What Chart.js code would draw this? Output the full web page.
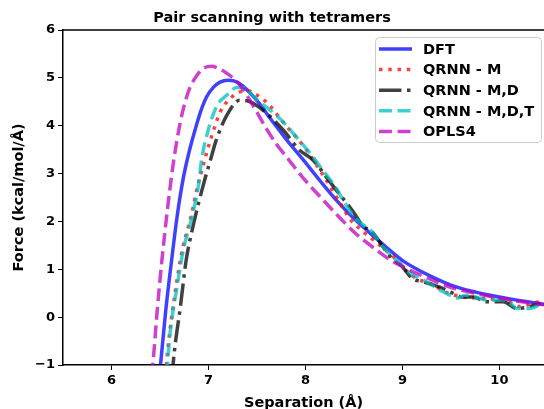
<!DOCTYPE html>
<html>
<head>
<meta charset="utf-8">
<script src="https://cdn.jsdelivr.net/npm/chart.js@4"></script>
<style>
  html, body { margin: 0; padding: 0; background: #fff; }
  #wrap { width: 544px; height: 409px; position: relative; }
</style>
</head>
<body>
<div id="wrap"><canvas id="c"></canvas></div>
<script>
// ---- data ----
const seriesNames = ["DFT", "QRNN - M", "QRNN - M,D", "QRNN - M,D,T", "OPLS4"];

const dftX = [6.47, 6.51, 6.56, 6.62, 6.68, 6.74, 6.80, 6.86, 6.92, 6.98, 7.05, 7.12, 7.20, 7.27, 7.35, 7.43, 7.53, 7.63, 7.80, 7.98, 8.15, 8.32, 8.50, 8.67, 8.84, 9.01, 9.18, 9.35, 9.50, 9.66, 9.85, 10.00, 10.20, 10.46];
const dftY = [-1.6, -0.9, 0.15, 1.19, 2.15, 2.9, 3.45, 3.9, 4.3, 4.6, 4.8, 4.91, 4.95, 4.93, 4.84, 4.68, 4.45, 4.17, 3.72, 3.28, 2.85, 2.44, 2.06, 1.75, 1.45, 1.17, 0.97, 0.8, 0.67, 0.57, 0.48, 0.42, 0.35, 0.27];

const qmX = [6.55, 6.58, 6.66, 6.73, 6.82, 6.89, 6.95, 7.02, 7.12, 7.19, 7.29, 7.39, 7.50, 7.63, 7.70, 7.80, 7.90, 8.00, 8.15, 8.32, 8.46, 8.60, 8.72, 8.84, 8.95, 9.05, 9.15, 9.28, 9.45, 9.63, 9.75, 9.90, 10.04, 10.12, 10.21, 10.30, 10.42];
const qmY = [-1.4, -0.69, 0.56, 1.4, 2.1, 2.75, 3.21, 3.7, 4.28, 4.5, 4.67, 4.74, 4.64, 4.43, 4.25, 4.0, 3.77, 3.52, 3.07, 2.51, 2.05, 1.78, 1.58, 1.38, 1.18, 0.95, 0.8, 0.71, 0.52, 0.42, 0.4, 0.38, 0.36, 0.3, 0.22, 0.26, 0.33];

const qmdX = [6.62, 6.65, 6.71, 6.77, 6.84, 6.90, 6.96, 7.02, 7.08, 7.19, 7.32, 7.40, 7.49, 7.60, 7.77, 7.94, 8.08, 8.24, 8.32, 8.48, 8.60, 8.67, 8.87, 9.00, 9.10, 9.21, 9.38, 9.52, 9.62, 9.73, 9.87, 10.04, 10.18, 10.31, 10.42];
const qmdY = [-1.3, -0.69, 0.21, 1.19, 1.89, 2.4, 2.86, 3.28, 3.7, 4.22, 4.53, 4.52, 4.43, 4.26, 3.91, 3.49, 3.28, 2.86, 2.65, 2.24, 1.89, 1.82, 1.28, 1.05, 0.81, 0.74, 0.63, 0.5, 0.42, 0.42, 0.32, 0.32, 0.18, 0.22, 0.29];

const qmdtX = [6.57, 6.60, 6.67, 6.74, 6.83, 6.90, 6.93, 6.99, 7.08, 7.19, 7.29, 7.39, 7.46, 7.57, 7.67, 7.77, 7.90, 8.05, 8.19, 8.30, 8.39, 8.50, 8.58, 8.67, 8.80, 8.94, 9.08, 9.25, 9.39, 9.50, 9.56, 9.66, 9.75, 9.87, 10.04, 10.12, 10.18, 10.31, 10.43];
const qmdtY = [-1.2, -0.41, 0.56, 1.4, 2.1, 2.8, 3.3, 3.85, 4.39, 4.64, 4.8, 4.78, 4.62, 4.43, 4.27, 4.08, 3.78, 3.42, 3.04, 2.75, 2.44, 2.1, 1.95, 1.82, 1.47, 1.19, 0.92, 0.74, 0.56, 0.45, 0.4, 0.46, 0.42, 0.36, 0.36, 0.28, 0.18, 0.18, 0.27];

const oplsX = [6.39, 6.43, 6.47, 6.52, 6.58, 6.64, 6.71, 6.76, 6.81, 6.88, 6.95, 7.03, 7.10, 7.20, 7.32, 7.46, 7.60, 7.70, 7.80, 7.98, 8.15, 8.32, 8.50, 8.67, 8.87, 9.01, 9.21, 9.49, 9.75, 10.00, 10.20, 10.46];
const oplsY = [-1.6, -0.9, 0.1, 1.19, 2.3, 3.25, 4.08, 4.5, 4.8, 5.05, 5.2, 5.24, 5.2, 5.08, 4.86, 4.42, 3.93, 3.62, 3.36, 2.9, 2.52, 2.15, 1.78, 1.5, 1.2, 1.05, 0.86, 0.63, 0.5, 0.4, 0.33, 0.26];

const xTicks = [6, 7, 8, 9, 10];
const yTicks = [-1, 0, 1, 2, 3, 4, 5, 6];
const xRange = [5.5, 10.46];
const yRange = [-1, 6];

const toPts = (xs, ys) => xs.map((x, i) => ({ x: x, y: ys[i] }));

const LW = 3.5;
const styles = [
  { color: 'rgba(0,0,255,0.75)', dash: [], order: 5 },
  { color: 'rgba(255,0,0,0.75)', dash: [LW, 1.65 * LW], order: 4 },
  { color: 'rgba(0,0,0,0.75)', dash: [6.4 * LW, 1.6 * LW, LW, 1.6 * LW], order: 3 },
  { color: 'rgba(0,191,191,0.75)', dash: [3.7 * LW, 1.6 * LW], order: 2 },
  { color: 'rgba(191,0,191,0.75)', dash: [3.7 * LW, 1.6 * LW], order: 1 }
];
const allData = [toPts(dftX, dftY), toPts(qmX, qmY), toPts(qmdX, qmdY), toPts(qmdtX, qmdtY), toPts(oplsX, oplsY)];

const datasets = seriesNames.map((name, i) => ({
  label: name,
  data: allData[i],
  borderColor: styles[i].color,
  borderDash: styles[i].dash,
  borderWidth: LW,
  borderCapStyle: 'butt',
  pointRadius: 0,
  fill: false,
  cubicInterpolationMode: 'monotone',
  order: styles[i].order,
  clip: 0
}));

const FONT = "'DejaVu Sans', sans-serif";

const framePlugin = {
  id: 'frame',
  afterDraw(chart) {
    const ctx = chart.ctx;
    const a = chart.chartArea;
    ctx.save();
    // top spine
    ctx.strokeStyle = '#000';
    ctx.lineWidth = 1.5;
    ctx.beginPath();
    ctx.moveTo(a.left, a.top);
    ctx.lineTo(a.right, a.top);
    ctx.stroke();

    // legend inside the plot
    const bx = 375.5, by = 37.5, bw = 166, bh = 105, r = 4;
    ctx.beginPath();
    ctx.moveTo(bx + r, by);
    ctx.lineTo(bx + bw - r, by);
    ctx.arcTo(bx + bw, by, bx + bw, by + r, r);
    ctx.lineTo(bx + bw, by + bh - r);
    ctx.arcTo(bx + bw, by + bh, bx + bw - r, by + bh, r);
    ctx.lineTo(bx + r, by + bh);
    ctx.arcTo(bx, by + bh, bx, by + bh - r, r);
    ctx.lineTo(bx, by + r);
    ctx.arcTo(bx, by, bx + r, by, r);
    ctx.closePath();
    ctx.fillStyle = 'rgba(255,255,255,0.8)';
    ctx.fill();
    ctx.strokeStyle = '#cccccc';
    ctx.lineWidth = 1;
    ctx.stroke();

    const rowY0 = 49, rowStep = 20.6;
    ctx.font = "bold 14.5px " + FONT;
    ctx.textBaseline = 'middle';
    ctx.textAlign = 'left';
    seriesNames.forEach((name, i) => {
      const y = rowY0 + i * rowStep;
      ctx.save();
      ctx.strokeStyle = styles[i].color;
      ctx.lineWidth = LW;
      ctx.lineCap = 'butt';
      ctx.setLineDash(styles[i].dash);
      ctx.beginPath();
      ctx.moveTo(379, y);
      ctx.lineTo(412, y);
      ctx.stroke();
      ctx.restore();
      ctx.fillStyle = '#000';
      ctx.fillText(name, 423, y + 1);
    });
    ctx.restore();
  }
};

new Chart(document.getElementById('c'), {
  type: 'line',
  data: { datasets: datasets },
  options: {
    responsive: true,
    maintainAspectRatio: false,
    animation: false,
    layout: { padding: 0 },
    plugins: {
      legend: { display: false },
      tooltip: { enabled: false },
      title: {
        display: true,
        text: 'Pair scanning with tetramers',
        color: '#000',
        font: { family: FONT, size: 14.5, weight: 'bold', lineHeight: 1.2 },
        padding: { top: 10, bottom: 2.6 }
      }
    },
    scales: {
      x: {
        type: 'linear',
        min: xRange[0],
        max: xRange[1],
        afterBuildTicks(scale) { scale.ticks = xTicks.map(v => ({ value: v })); },
        afterFit(scale) { scale.height = 44; },
        grid: { display: true, drawOnChartArea: false, drawTicks: true, tickLength: 5, color: '#000', lineWidth: 1 },
        border: { display: true, color: '#000', width: 1.5 },
        ticks: {
          color: '#000', padding: 3, maxRotation: 0,
          font: { family: FONT, size: 13, weight: 'bold' },
          callback: v => String(v).replace('-', '\u2212')
        },
        title: {
          display: true, text: 'Separation (Å)', color: '#000',
          font: { family: FONT, size: 14.5, weight: 'bold', lineHeight: 0.8 },
          padding: { top: 0, bottom: 0 }
        }
      },
      y: {
        type: 'linear',
        min: yRange[0],
        max: yRange[1],
        afterBuildTicks(scale) { scale.ticks = yTicks.map(v => ({ value: v })); },
        afterFit(scale) { scale.width = 63; },
        grid: { display: true, drawOnChartArea: false, drawTicks: true, tickLength: 5, color: '#000', lineWidth: 1 },
        border: { display: true, color: '#000', width: 1.5 },
        ticks: {
          color: '#000', padding: 3,
          font: { family: FONT, size: 13, weight: 'bold' },
          callback: v => String(v).replace('-', '\u2212')
        },
        title: {
          display: true, text: 'Force (kcal/mol/Å)', color: '#000',
          font: { family: FONT, size: 14.5, weight: 'bold', lineHeight: 1.2 },
          padding: { top: 10.5, bottom: 0 }
        }
      }
    }
  },
  plugins: [framePlugin]
});
</script>
</body>
</html>
